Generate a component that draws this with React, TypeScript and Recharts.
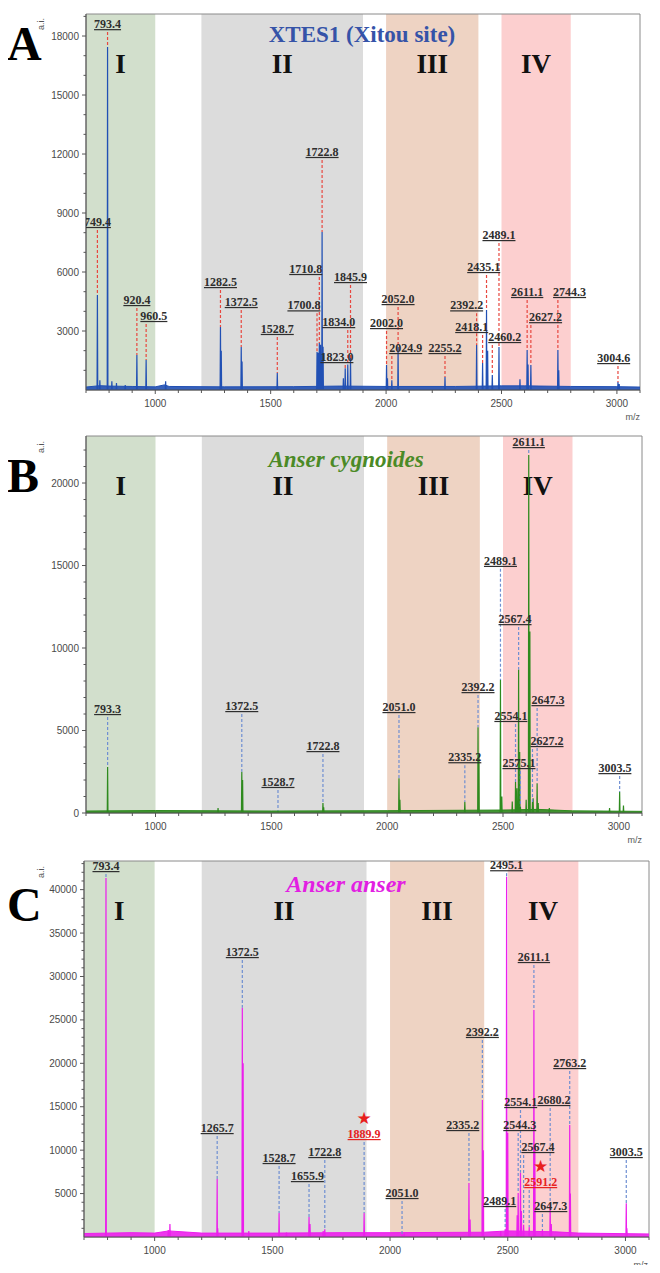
import React from 'react';
import {
  ComposedChart,
  XAxis,
  YAxis,
  Line,
  Area,
  Scatter,
  ReferenceArea,
  ReferenceLine
} from 'recharts';

const SERIF = "'Liberation Serif', 'Times New Roman', serif";
const SANS = "'Liberation Sans', Arial, sans-serif";

// m/z range and shaded regions
const mzMin = 700;
const mzMax = 3100;
const regionNames = ['I', 'II', 'III', 'IV'];
const regionStart = [700, 1200, 2000, 2500];
const regionEnd = [1000, 1900, 2400, 2800];
const regionFills = ['#d2dfcc', '#dcdcdc', '#eed3c3', '#fccfcf'];

const xMajor = [1000, 1500, 2000, 2500, 3000];
const yMajorA = [3000, 6000, 9000, 12000, 15000, 18000];
const yMajorB = [0, 5000, 10000, 15000, 20000];
const yMajorC = [5000, 10000, 15000, 20000, 25000, 30000, 35000, 40000];

type Peak = { mz: number; h: number; at: number; lx?: number; red?: boolean; star?: boolean };

// Panel A: XTES1 (Xitou site)
const labeledA: Peak[] = [
  { mz: 749.4, h: 4830, at: 8140 },
  { mz: 793.4, h: 17440, at: 18200 },
  { mz: 920.4, h: 1780, at: 4170 },
  { mz: 960.5, h: 1525, at: 3360, lx: 994 },
  { mz: 1282.5, h: 3200, at: 5085 },
  { mz: 1372.5, h: 2190, at: 4070 },
  { mz: 1528.7, h: 860, at: 2700 },
  { mz: 1700.8, h: 1930, at: 3900, lx: 1644 },
  { mz: 1710.8, h: 2390, at: 5750, lx: 1652 },
  { mz: 1722.8, h: 8030, at: 11700 },
  { mz: 1823.0, h: 1100, at: 1270, lx: 1787 },
  { mz: 1834.0, h: 1300, at: 3050, lx: 1795 },
  { mz: 1845.9, h: 1630, at: 5340 },
  { mz: 2002.0, h: 1270, at: 3000 },
  { mz: 2024.9, h: 500, at: 1730, lx: 2085 },
  { mz: 2052.0, h: 2190, at: 4220 },
  { mz: 2255.2, h: 660, at: 1730 },
  { mz: 2392.2, h: 2290, at: 3900, lx: 2349 },
  { mz: 2418.1, h: 1370, at: 2800, lx: 2371 },
  { mz: 2435.1, h: 4070, at: 5850, lx: 2423 },
  { mz: 2460.2, h: 760, at: 2290, lx: 2514 },
  { mz: 2489.1, h: 2190, at: 7475 },
  { mz: 2611.1, h: 2030, at: 4580 },
  { mz: 2627.2, h: 1270, at: 3300, lx: 2691 },
  { mz: 2744.3, h: 2030, at: 4580, lx: 2795 },
  { mz: 3004.6, h: 400, at: 1220, lx: 2986 }
];
const minorA: [number, number][] = [
  [760, 500], [812, 450], [832, 350], [870, 250], [1045, 450], [1286, 2000],
  [1376, 1450], [1706, 1900], [1716, 2300], [1727, 2200], [1815, 600],
  [2006, 600], [2440, 2000], [2580, 550], [2615, 1300], [2748, 1000], [3010, 300]
];
const floorA: [number, number][] = [
  [700, 150], [760, 220], [800, 200], [900, 180], [1000, 160], [1040, 260], [1060, 180],
  [1300, 160], [1600, 170], [1800, 200], [2000, 180], [2300, 180], [2500, 210],
  [2600, 210], [2800, 180], [3000, 170], [3100, 150]
];

// Panel B: Anser cygnoides
const labeledB: Peak[] = [
  { mz: 793.3, h: 2790, at: 5820 },
  { mz: 1372.5, h: 2500, at: 6000 },
  { mz: 1528.7, h: 150, at: 1400 },
  { mz: 1722.8, h: 600, at: 3575 },
  { mz: 2051.0, h: 2100, at: 5940 },
  { mz: 2335.2, h: 670, at: 2900 },
  { mz: 2392.2, h: 5200, at: 7150 },
  { mz: 2489.1, h: 8060, at: 14800 },
  { mz: 2554.1, h: 1880, at: 5400, lx: 2534 },
  { mz: 2567.4, h: 8700, at: 11270, lx: 2552 },
  { mz: 2575.1, h: 400, at: 2545, lx: 2569 },
  { mz: 2611.1, h: 21700, at: 22000 },
  { mz: 2627.2, h: 670, at: 3880, lx: 2690 },
  { mz: 2647.3, h: 1800, at: 6360, lx: 2694 },
  { mz: 3003.5, h: 1270, at: 2240, lx: 2983 }
];
const minorB: [number, number][] = [
  [1270, 300], [1376, 2000], [1726, 350], [2055, 800], [2396, 3600], [2495, 1000],
  [2540, 700], [2560, 1500], [2572, 3700], [2600, 800], [2616, 11000], [2630, 900],
  [2652, 600], [2700, 300], [2960, 300], [3020, 450]
];
const floorB: [number, number][] = [
  [700, 120], [1000, 150], [1500, 120], [2000, 140], [2500, 180], [2650, 220],
  [2800, 130], [3100, 100]
];

// Panel C: Anser anser
const labeledC: Peak[] = [
  { mz: 793.4, h: 41350, at: 41800 },
  { mz: 1265.7, h: 6680, at: 11630 },
  { mz: 1372.5, h: 26400, at: 31900 },
  { mz: 1528.7, h: 2760, at: 8180 },
  { mz: 1655.9, h: 2300, at: 6100, lx: 1649 },
  { mz: 1722.8, h: 900, at: 8870 },
  { mz: 1889.9, h: 2760, at: 10940, red: true, star: true },
  { mz: 2051.0, h: 300, at: 4150 },
  { mz: 2335.2, h: 6220, at: 11980, lx: 2309 },
  { mz: 2392.2, h: 15780, at: 22700 },
  { mz: 2489.1, h: 900, at: 3230, lx: 2466 },
  { mz: 2495.1, h: 41500, at: 41900 },
  { mz: 2544.3, h: 5070, at: 11980, lx: 2551 },
  { mz: 2554.1, h: 7400, at: 14630, lx: 2555 },
  { mz: 2567.4, h: 1400, at: 9450, lx: 2628 },
  { mz: 2591.2, h: 1150, at: 5410, lx: 2640, red: true, star: true },
  { mz: 2611.1, h: 26150, at: 31330 },
  { mz: 2647.3, h: 800, at: 2650, lx: 2683 },
  { mz: 2680.2, h: 3900, at: 14860, lx: 2696 },
  { mz: 2763.2, h: 12900, at: 19120 },
  { mz: 3003.5, h: 3900, at: 8870 }
];
const minorC: [number, number][] = [
  [1058, 800], [1065, 1500], [1268, 1000], [1376, 20000], [1400, 700], [1560, 500],
  [1660, 1500], [1716, 700], [2060, 400], [2340, 2000], [2396, 10000], [2470, 700],
  [2500, 12000], [2540, 2500], [2558, 3000], [2615, 10600], [2685, 1500],
  [2766, 5000], [3006, 1000]
];
const floorC: [number, number][] = [
  [700, 400], [900, 500], [1000, 450], [1060, 700], [1200, 450], [1500, 450],
  [1800, 500], [2000, 500], [2400, 550], [2500, 700], [2700, 600], [2800, 450], [3100, 350]
];

const steps = (from: number, to: number, step: number) => {
  const out: number[] = [];
  for (let v = from; v <= to; v += step) out.push(v);
  return out;
};

// each peak becomes a narrow spike on the zero line
const toSpectrum = (labeled: Peak[], minor: [number, number][]) => {
  const peaks: [number, number][] = [...labeled.map((p) => [p.mz, p.h] as [number, number]), ...minor];
  const pts = [{ mz: mzMin, v: 0 }, { mz: mzMax, v: 0 }];
  peaks.forEach(([mz, h]) => {
    pts.push({ mz: mz - 1.5, v: 0 }, { mz, v: h }, { mz: mz + 1.5, v: 0 });
  });
  return pts.sort((a, b) => a.mz - b.mz);
};

const XTick = (props: any) => {
  const { x, y, payload } = props;
  const major = xMajor.includes(payload.value);
  return (
    <g>
      <line x1={x} x2={x} y1={y} y2={y + (major ? 4 : 3)} stroke="#555" />
      {major && (
        <text x={x} y={y + 17} textAnchor="middle" fontSize={10} fontFamily={SANS} fill="#4a4a4a">
          {payload.value}
        </text>
      )}
    </g>
  );
};

const makeYTick = (majors: number[]) => (props: any) => {
  const { x, y, payload } = props;
  const major = majors.includes(payload.value);
  return (
    <g>
      <line x1={x - (major ? 4 : 2.5)} x2={x} y1={y} y2={y} stroke="#555" />
      {major && (
        <text x={x - 7} y={y + 3.5} textAnchor="end" fontSize={10} fontFamily={SANS} fill="#4a4a4a">
          {payload.value}
        </text>
      )}
    </g>
  );
};

const PeakLabel = (props: any) => {
  const { cx, cy, payload } = props;
  const color = payload.red ? '#e6231f' : '#2e2e2e';
  return (
    <g>
      {payload.star && (
        <text x={cx} y={cy - 18} textAnchor="middle" fontSize={17} fontFamily="'DejaVu Sans', sans-serif" fill="#e8201c">
          ★
        </text>
      )}
      <text
        x={cx}
        y={cy - 4}
        textAnchor="middle"
        fontSize={12}
        fontWeight="bold"
        fontFamily={SERIF}
        fill={color}
        style={{ textDecoration: 'underline' }}
      >
        {payload.text}
      </text>
    </g>
  );
};

interface PanelProps {
  top: number;
  height: number;
  margin: { top: number; right: number; bottom: number; left: number };
  yTop: number;
  yMajors: number[];
  color: string;
  dash: string;
  labeled: Peak[];
  minor: [number, number][];
  floor: [number, number][];
}

function Panel({ top, height, margin, yTop, yMajors, color, dash, labeled, minor, floor }: PanelProps) {
  const spectrum = toSpectrum(labeled, minor);
  const floorData = floor.map(([mz, v]) => ({ mz, v }));
  const labelPoints = labeled.map((p) => ({
    mz: p.lx ?? p.mz,
    v: p.at,
    text: p.mz.toFixed(1),
    red: p.red,
    star: p.star
  }));
  const yTicks = steps(yMajors[0] === 0 ? 0 : 1000, Math.floor(yTop / 1000) * 1000, 1000);
  const xTicks = steps(mzMin, mzMax, 100);

  return (
    <div style={{ position: 'absolute', left: 0, top }}>
      <ComposedChart width={660} height={height} margin={margin}>
        <XAxis
          type="number"
          dataKey="mz"
          domain={[mzMin, mzMax]}
          allowDataOverflow
          ticks={xTicks}
          interval={0}
          tickSize={0}
          tickMargin={0}
          tickLine={false}
          tick={XTick}
          height={25}
          axisLine={{ stroke: '#555' }}
        />
        <YAxis
          type="number"
          domain={[0, yTop]}
          allowDataOverflow
          ticks={yTicks}
          interval={0}
          tickSize={0}
          tickMargin={0}
          tickLine={false}
          tick={makeYTick(yMajors)}
          width={50}
          axisLine={{ stroke: '#555' }}
        />
        {regionNames.map((name, i) => (
          <ReferenceArea
            key={name}
            x1={regionStart[i]}
            x2={regionEnd[i]}
            y1={0}
            y2={yTop}
            fill={regionFills[i]}
            fillOpacity={1}
            stroke="none"
            label={(lp: any) => {
              const vb = lp.viewBox;
              return (
                <text
                  x={vb.x + vb.width / 2}
                  y={vb.y + 59}
                  textAnchor="middle"
                  fontSize={27}
                  fontWeight="bold"
                  fontFamily={SERIF}
                  fill="#111"
                >
                  {name}
                </text>
              );
            }}
          />
        ))}
        <ReferenceArea x1={mzMin} x2={mzMax} y1={0} y2={yTop} fill="none" stroke="#8a8a8a" />
        <Area
          data={floorData}
          dataKey="v"
          type="linear"
          stroke={color}
          strokeWidth={1}
          fill={color}
          fillOpacity={0.9}
          isAnimationActive={false}
        />
        <Line
          data={spectrum}
          dataKey="v"
          type="linear"
          stroke={color}
          strokeWidth={1.2}
          dot={false}
          isAnimationActive={false}
        />
        {labeled.map((p) => (
          <ReferenceLine
            key={'d' + p.mz}
            segment={[{ x: p.mz, y: p.at }, { x: p.mz, y: p.h }]}
            stroke={dash}
            strokeWidth={1.2}
            strokeDasharray="3 2"
          />
        ))}
        <Scatter data={labelPoints} dataKey="v" shape={PeakLabel} isAnimationActive={false} />
      </ComposedChart>
    </div>
  );
}

export default function App() {
  return (
    <div style={{ position: 'relative', width: 660, height: 1273, margin: -8, background: '#fff' }}>
      <Panel
        top={0}
        height={420}
        margin={{ top: 14, right: 20, left: 36, bottom: 5 }}
        yTop={19120}
        yMajors={yMajorA}
        color="#2150b4"
        dash="#e8473f"
        labeled={labeledA}
        minor={minorA}
        floor={floorA}
      />
      <Panel
        top={420}
        height={425}
        margin={{ top: 16, right: 18, left: 36, bottom: 7 }}
        yTop={22850}
        yMajors={yMajorB}
        color="#2e8a1e"
        dash="#6f8fd2"
        labeled={labeledB}
        minor={minorB}
        floor={floorB}
      />
      <Panel
        top={845}
        height={428}
        margin={{ top: 16, right: 11, left: 34, bottom: 11 }}
        yTop={43300}
        yMajors={yMajorC}
        color="#ec1fec"
        dash="#6f8fd2"
        labeled={labeledC}
        minor={minorC}
        floor={floorC}
      />
      <svg
        width={660}
        height={1273}
        style={{ position: 'absolute', left: 0, top: 0, pointerEvents: 'none' }}
      >
        <g fontFamily={SERIF} fontWeight="bold" fontSize={48} fill="#000">
          <text x={7} y={60}>A</text>
          <text x={7} y={492}>B</text>
          <text x={7} y={921}>C</text>
        </g>
        <text x={362} y={42} textAnchor="middle" fontFamily={SERIF} fontWeight="bold" fontSize={23} fill="#3553a8">
          XTES1 (Xitou site)
        </text>
        <text x={346} y={467} textAnchor="middle" fontFamily={SERIF} fontWeight="bold" fontStyle="italic" fontSize={23} fill="#4b8a26">
          Anser cygnoides
        </text>
        <text x={346} y={892} textAnchor="middle" fontFamily={SERIF} fontWeight="bold" fontStyle="italic" fontSize={24} fill="#e21fe2">
          Anser anser
        </text>
        <g fontFamily={SANS} fontSize={9} fill="#555">
          <text transform="translate(44 30) rotate(-90)">a.i.</text>
          <text transform="translate(44 453) rotate(-90)">a.i.</text>
          <text transform="translate(44 878) rotate(-90)">a.i.</text>
          <text x={640} y={420} textAnchor="end">m/z</text>
          <text x={642} y={843} textAnchor="end">m/z</text>
          <text x={648} y={1268} textAnchor="end">m/z</text>
        </g>
      </svg>
    </div>
  );
}
